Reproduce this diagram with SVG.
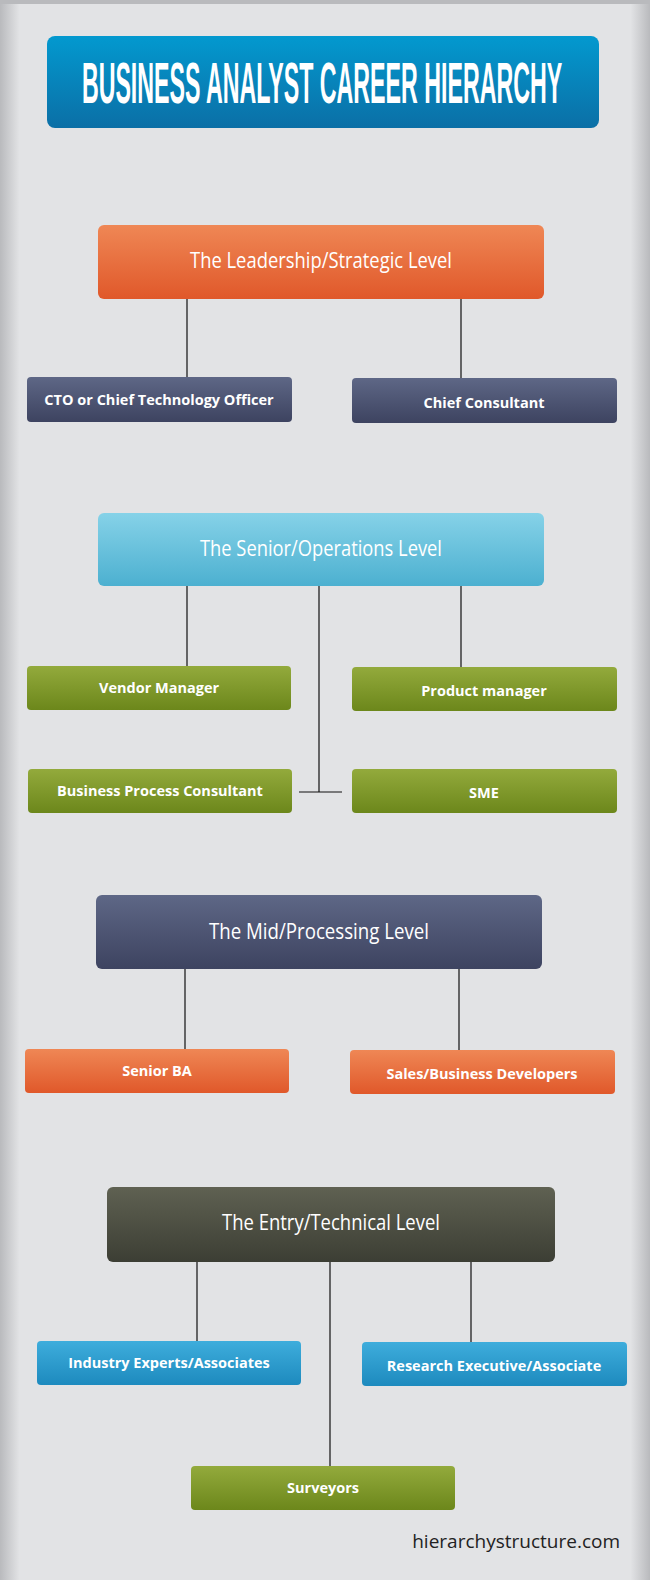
<svg xmlns="http://www.w3.org/2000/svg" width="650" height="1580" viewBox="0 0 650 1580">
<defs>
<linearGradient id="bg" x1="0" x2="1"><stop offset="0" stop-color="#b9babd"/><stop offset="0.03" stop-color="#e2e3e5"/><stop offset="0.97" stop-color="#e2e3e5"/><stop offset="1" stop-color="#b9babd"/></linearGradient>
<linearGradient id="gT" x1="0" y1="0" x2="0" y2="1"><stop offset="0" stop-color="#0399cf"/><stop offset="1" stop-color="#0b6fa6"/></linearGradient>
<linearGradient id="gO" x1="0" y1="0" x2="0" y2="1"><stop offset="0" stop-color="#ef8755"/><stop offset="1" stop-color="#e0582a"/></linearGradient>
<linearGradient id="gS" x1="0" y1="0" x2="0" y2="1"><stop offset="0" stop-color="#5e6786"/><stop offset="1" stop-color="#3d4360"/></linearGradient>
<linearGradient id="gL" x1="0" y1="0" x2="0" y2="1"><stop offset="0" stop-color="#86d2e8"/><stop offset="1" stop-color="#4cb0d0"/></linearGradient>
<linearGradient id="gG" x1="0" y1="0" x2="0" y2="1"><stop offset="0" stop-color="#93aa3c"/><stop offset="1" stop-color="#6c871b"/></linearGradient>
<linearGradient id="gD" x1="0" y1="0" x2="0" y2="1"><stop offset="0" stop-color="#5f6152"/><stop offset="1" stop-color="#3c3e34"/></linearGradient>
<linearGradient id="gB" x1="0" y1="0" x2="0" y2="1"><stop offset="0" stop-color="#3eaddc"/><stop offset="1" stop-color="#1d8abe"/></linearGradient>
</defs>
<style>
.hd{font-family:"Open Sans","Liberation Sans",sans-serif;font-size:22px;fill:#fff;text-anchor:middle}
.sm{font-family:"Open Sans","Liberation Sans",sans-serif;font-size:14.5px;font-weight:bold;fill:#fff;text-anchor:middle}
.ln{stroke:#111;stroke-width:1.2;fill:none}
</style>
<rect width="650" height="1580" fill="url(#bg)"/>
<rect x="0" y="0" width="650" height="4" fill="#b9babd"/>
<g id="title"><rect x="47" y="36" width="552" height="92" rx="8" fill="url(#gT)"/>
<text transform="translate(322,103) scale(0.4,1)" font-family="'Liberation Sans','DejaVu Sans',sans-serif" font-size="58" font-weight="bold" fill="#fff" text-anchor="middle">BUSINESS ANALYST CAREER HIERARCHY</text></g>
<g id="connectors">
<path class="ln" d="M187 299V377M461 299V378"/>
<path class="ln" d="M187 586V666M461 586V667M319 586V792M299 792H342"/>
<path class="ln" d="M185 969V1049M459 969V1050"/>
<path class="ln" d="M197 1262V1341M471 1262V1342M330 1262V1466"/>
</g>
<g id="lead"><rect x="98" y="225" width="446" height="74" rx="6" fill="url(#gO)"/><text class="hd" x="321" y="268" textLength="262" lengthAdjust="spacingAndGlyphs">The Leadership/Strategic Level</text></g>
<g id="cto"><rect x="27" y="377" width="265" height="45" rx="4" fill="url(#gS)"/><text class="sm" x="159" y="405">CTO or Chief Technology Officer</text></g>
<g id="chief"><rect x="352" y="378" width="265" height="45" rx="4" fill="url(#gS)"/><text class="sm" x="484" y="408">Chief Consultant</text></g>
<g id="senior"><rect x="98" y="513" width="446" height="73" rx="6" fill="url(#gL)"/><text class="hd" x="321" y="556" textLength="242" lengthAdjust="spacingAndGlyphs">The Senior/Operations Level</text></g>
<g id="vendor"><rect x="27" y="666" width="264" height="44" rx="4" fill="url(#gG)"/><text class="sm" x="159" y="693">Vendor Manager</text></g>
<g id="product"><rect x="352" y="667" width="265" height="44" rx="4" fill="url(#gG)"/><text class="sm" x="484" y="696">Product manager</text></g>
<g id="bpc"><rect x="28" y="769" width="264" height="44" rx="4" fill="url(#gG)"/><text class="sm" x="160" y="796">Business Process Consultant</text></g>
<g id="sme"><rect x="352" y="769" width="265" height="44" rx="4" fill="url(#gG)"/><text class="sm" x="484" y="798">SME</text></g>
<g id="mid"><rect x="96" y="895" width="446" height="74" rx="6" fill="url(#gS)"/><text class="hd" x="319" y="939" textLength="220" lengthAdjust="spacingAndGlyphs">The Mid/Processing Level</text></g>
<g id="sba"><rect x="25" y="1049" width="264" height="44" rx="4" fill="url(#gO)"/><text class="sm" x="157" y="1076">Senior BA</text></g>
<g id="sales"><rect x="350" y="1050" width="265" height="44" rx="4" fill="url(#gO)"/><text class="sm" x="482" y="1079">Sales/Business Developers</text></g>
<g id="entry"><rect x="107" y="1187" width="448" height="75" rx="6" fill="url(#gD)"/><text class="hd" x="331" y="1230" textLength="218" lengthAdjust="spacingAndGlyphs">The Entry/Technical Level</text></g>
<g id="industry"><rect x="37" y="1341" width="264" height="44" rx="4" fill="url(#gB)"/><text class="sm" x="169" y="1368">Industry Experts/Associates</text></g>
<g id="research"><rect x="362" y="1342" width="265" height="44" rx="4" fill="url(#gB)"/><text class="sm" x="494" y="1371">Research Executive/Associate</text></g>
<g id="surveyors"><rect x="191" y="1466" width="264" height="44" rx="4" fill="url(#gG)"/><text class="sm" x="323" y="1493">Surveyors</text></g>
<text x="620" y="1548" font-family="'Open Sans','Liberation Sans',sans-serif" font-size="19" fill="#222" text-anchor="end">hierarchystructure.com</text>
</svg>
